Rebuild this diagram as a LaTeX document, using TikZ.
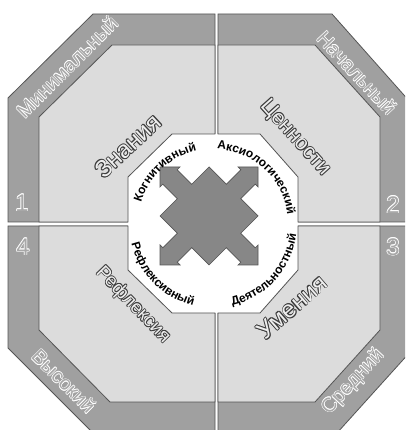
\documentclass[tikz,border=0pt]{standalone}
\usepackage{fontspec}
\setmainfont{Liberation Sans}
\usetikzlibrary{decorations.text,calc}
\definecolor{band}{HTML}{A0A0A0}
\definecolor{quad}{HTML}{DCDCDC}
\definecolor{edge}{HTML}{555555}
\definecolor{textedge}{HTML}{3C3C3C}
\definecolor{crossfill}{HTML}{878787}
\definecolor{quadtext}{HTML}{EEEEEE}
\definecolor{bandtext}{HTML}{A8A8A8}
\newdimen\olw
\olw=0.6pt
\newcommand\olt[3]{%
  \setbox0=\hbox{#3}%
  \dimen2=0.7071\olw
  \hbox{\color{#1}%
    \rlap{\kern\olw\copy0}%
    \rlap{\kern-\olw\copy0}%
    \rlap{\raise\olw\copy0}%
    \rlap{\lower\olw\copy0}%
    \rlap{\kern\dimen2\raise\dimen2\copy0}%
    \rlap{\kern\dimen2\lower\dimen2\copy0}%
    \rlap{\kern-\dimen2\raise\dimen2\copy0}%
    \rlap{\kern-\dimen2\lower\dimen2\copy0}%
    \color{#2}\copy0}}
\newcommand\arcfont{\fontsize{12}{14}\selectfont\bfseries}
\tikzset{
  bandpart/.style={fill=band, draw=edge, line width=0.8pt, line join=miter},
  quadpart/.style={fill=quad, draw=edge, line width=0.8pt, line join=miter},
  crossshape/.style={fill=crossfill, draw=edge, line width=0.7pt, line join=miter},
  bandlabel/.style={inner sep=0pt, font=\fontsize{20}{24}\selectfont},
  numlabel/.style={inner sep=0pt, font=\fontsize{24}{28}\selectfont},
  quadlabel/.style={inner sep=0pt},
  arctext/.style={decorate, decoration={text along path, text align=center, text={#1}}}
}
\begin{document}
\begin{tikzpicture}[x=1pt, y=1pt]
\useasboundingbox (0,0) rectangle (405,430);
\clip (0,0) rectangle (405,430);
\fill[white] (0,0) rectangle (405,430);
% bands
\path[bandpart] (8,208) -- (8,332) -- (93,416) -- (215,416) -- (215,208) -- cycle;
\path[bandpart] (218,208) -- (218,416) -- (332,416) -- (411,327) -- (411,208) -- cycle;
\path[bandpart] (218,204) -- (411,204) -- (411,79) -- (337,-3) -- (218,-3) -- cycle;
\path[bandpart] (8,204) -- (215,204) -- (215,-3) -- (93,-3) -- (8,82) -- cycle;
% white centre
\fill[white] (172,296) -- (260,296) -- (298,253) -- (298,160) -- (260,117) -- (172,117) -- (128,160) -- (128,253) -- cycle;
% light quadrant areas
\path[quadpart] (39,208) -- (39,313) -- (112,385) -- (215,385) -- (215,296) -- (172,296) -- (128,253) -- (128,208) -- cycle;
\path[quadpart] (218,385) -- (315,385) -- (380,313) -- (380,208) -- (298,208) -- (298,253) -- (260,296) -- (218,296) -- cycle;
\path[quadpart] (218,28) -- (218,117) -- (260,117) -- (298,160) -- (298,204) -- (380,204) -- (380,100) -- (315,28) -- cycle;
\path[quadpart] (39,204) -- (128,204) -- (128,160) -- (172,117) -- (215,117) -- (215,28) -- (110,28) -- (39,100) -- cycle;

% band labels
\node[bandlabel, rotate=45] (minimal) at (67,363) {\olt{white}{bandtext}{Минимальный}};
\node[bandlabel, rotate=-47] (initial) at (357,357) {\olt{white}{bandtext}{Начальный}};
\node[bandlabel, rotate=47] (middle) at (353,48) {\olt{white}{bandtext}{Средний}};
\node[bandlabel, rotate=-45] (high) at (64,49) {\olt{white}{bandtext}{Высокий}};
% numbers
\node[numlabel] (n1) at (22,227) {\olt{white}{bandtext}{1}};
\node[numlabel] (n2) at (393,225) {\olt{white}{bandtext}{2}};
\node[numlabel] (n3) at (393,183) {\olt{white}{bandtext}{3}};
\node[numlabel] (n4) at (23,183) {\olt{white}{bandtext}{4}};
% quadrant labels
\node[quadlabel, rotate=43, font=\fontsize{24}{28}\selectfont] (know) at (128,284) {\olw=0.8pt\olt{textedge}{quadtext}{Знания}};
\node[quadlabel, rotate=-48, font=\fontsize{21}{25}\selectfont] (values) at (295,292) {\olw=0.8pt\olt{textedge}{quadtext}{Ценности}};
\node[quadlabel, rotate=41, font=\fontsize{24}{28}\selectfont] (skills) at (292,123) {\olw=0.8pt\olt{textedge}{quadtext}{Умения}};
\node[quadlabel, rotate=-46, font=\fontsize{19}{23}\selectfont] (reflex) at (133,125) {\olw=0.8pt\olt{textedge}{quadtext}{Рефлексия}};

% central cross
\coordinate (c) at (209,214);
\path[crossshape, shift={(c)}]
  (-49,49) -- (-29,49) -- (-31.85,46.15) -- (-17.35,31.65) -- (0,49)
  -- (17.35,31.65) -- (31.85,46.15) -- (29,49) -- (49,49)
  -- (49,29) -- (46.15,31.85) -- (31.65,17.35) -- (49,0)
  -- (31.65,-17.35) -- (46.15,-31.85) -- (49,-29) -- (49,-49)
  -- (29,-49) -- (31.85,-46.15) -- (17.35,-31.65) -- (0,-49)
  -- (-17.35,-31.65) -- (-31.85,-46.15) -- (-29,-49) -- (-49,-49)
  -- (-49,-29) -- (-46.15,-31.85) -- (-31.65,-17.35) -- (-49,0)
  -- (-31.65,17.35) -- (-46.15,31.85) -- (-49,29) -- cycle;

% curved labels
\coordinate (o) at (213,206);
\path[arctext={|\arcfont|Когнитивный}] ($(o)+(170:75)$) arc[start angle=170, end angle=96, radius=75];
\path[arctext={|\arcfont|Аксиологический}] ($(o)+(100:75)$) arc[start angle=100, end angle=-6, radius=75];
\path[arctext={|\arcfont|Рефлексивный}] ($(o)+(175:84)$) arc[start angle=175, end angle=275, radius=84];
\path[arctext={|\arcfont|Деятельностный}] ($(o)+(-92:84)$) arc[start angle=-92, end angle=8, radius=84];
\end{tikzpicture}
\end{document}
